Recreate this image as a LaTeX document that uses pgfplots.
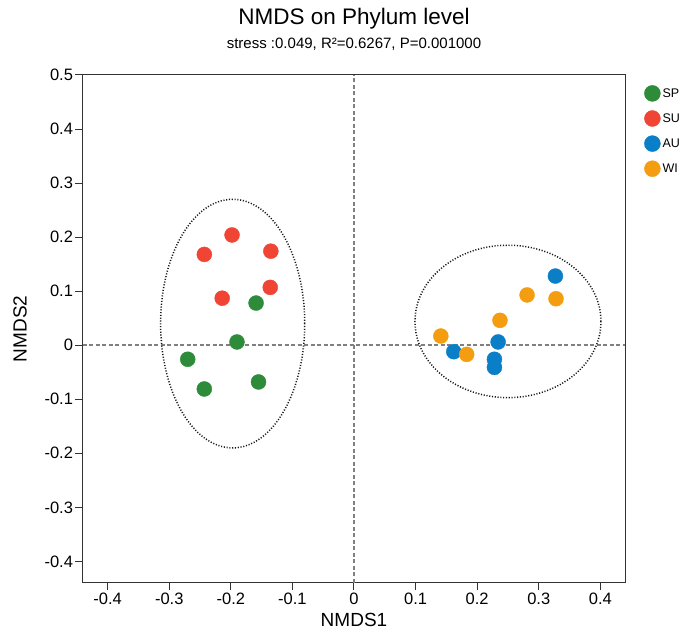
\documentclass[border=0pt]{standalone}
\usepackage{pgfplots}
\pgfplotsset{compat=1.18}
\usepackage{fontspec}
\setmainfont{Liberation Sans}
\definecolor{cSP}{HTML}{2E8B3A}
\definecolor{cSU}{HTML}{F04535}
\definecolor{cAU}{HTML}{0A7FC8}
\definecolor{cWI}{HTML}{F59D10}
\begin{document}
\begin{tikzpicture}
\path[use as bounding box] (-83pt,-48pt) rectangle (603pt,583pt);
\begin{axis}[
  width=542pt, height=508pt, scale only axis,
  at={(0pt,0pt)}, anchor=south west,
  xmin=-0.44, xmax=0.44, ymin=-0.44, ymax=0.5,
  xtick={-0.4,-0.3,-0.2,-0.1,0,0.1,0.2,0.3,0.4},
  ytick={-0.4,-0.3,-0.2,-0.1,0,0.1,0.2,0.3,0.4,0.5},
  tick align=outside, tick pos=left, major tick length=7.5pt,
  axis line style={line width=1pt, black!80},
  every tick/.style={line width=1pt, black!80},
  /pgf/number format/assume math mode=true,
  /pgf/number format/fixed, /pgf/number format/precision=1,
  ticklabel style={font=\fontsize{16.5}{18}\selectfont},
  xticklabel style={yshift=1pt},
  yticklabel style={xshift=1pt},
  xlabel={NMDS1}, ylabel={NMDS2},
  label style={font=\fontsize{19}{21}\selectfont},
  xlabel style={at={([yshift=-37pt]axis description cs:0.5,0)}, anchor=center},
  ylabel style={at={([xshift=-63pt]axis description cs:0,0.5)}, anchor=center},
  legend style={at={(1.0,1.0)}, anchor=north west, xshift=16pt, yshift=-8pt,
    draw=none, fill=none,
    font=\fontsize{12.5}{14}\selectfont, row sep=8.7pt,
    legend cell align=left},
  legend image code/.code={\draw[#1] (0.3cm,0cm) circle[radius=8pt];},
  clip=false,
]
\draw[black!50, line width=2pt, dash pattern=on 4pt off 2.5pt] (axis cs:0,-0.44) -- (axis cs:0,0.5);
\draw[black!50, line width=2pt, dash pattern=on 4pt off 2.5pt] (axis cs:-0.44,0) -- (axis cs:0.44,0);
\draw[black!90, line width=1.5pt, dash pattern=on 1.1pt off 1.7pt] (axis cs:-0.197,0.04) ellipse [x radius=0.117, y radius=0.23];
\draw[black!90, line width=1.5pt, dash pattern=on 1.1pt off 1.7pt] (axis cs:0.25,0.044) ellipse [x radius=0.151, y radius=0.141];

\addplot[only marks, mark=*, mark size=7.5pt, mark options={draw=cSP, fill=cSP}, fill=cSP, draw=cSP] coordinates {
(-0.159,0.078) (-0.19,0.006) (-0.27,-0.026) (-0.243,-0.081) (-0.155,-0.068)};
\addlegendentry{SP}
\addplot[only marks, mark=*, mark size=7.5pt, mark options={draw=cSU, fill=cSU}, fill=cSU, draw=cSU] coordinates {
(-0.198,0.204) (-0.243,0.168) (-0.135,0.174) (-0.214,0.087) (-0.136,0.107)};
\addlegendentry{SU}
\addplot[only marks, mark=*, mark size=7.5pt, mark options={draw=cAU, fill=cAU}, fill=cAU, draw=cAU] coordinates {
(0.327,0.128) (0.234,0.006) (0.162,-0.012) (0.228,-0.026) (0.228,-0.041)};
\addlegendentry{AU}
\addplot[only marks, mark=*, mark size=7.5pt, mark options={draw=cWI, fill=cWI}, fill=cWI, draw=cWI] coordinates {
(0.141,0.017) (0.183,-0.017) (0.237,0.046) (0.281,0.093) (0.328,0.086)};
\addlegendentry{WI}

\node[font=\fontsize{22.5}{26}\selectfont] at ([yshift=56pt]rel axis cs:0.5,1) {NMDS on Phylum level};
\node[font=\fontsize{15}{17}\selectfont] at ([yshift=31pt]rel axis cs:0.5,1) {stress :0.049, R²=0.6267, P=0.001000};
\end{axis}
\end{tikzpicture}
\end{document}
